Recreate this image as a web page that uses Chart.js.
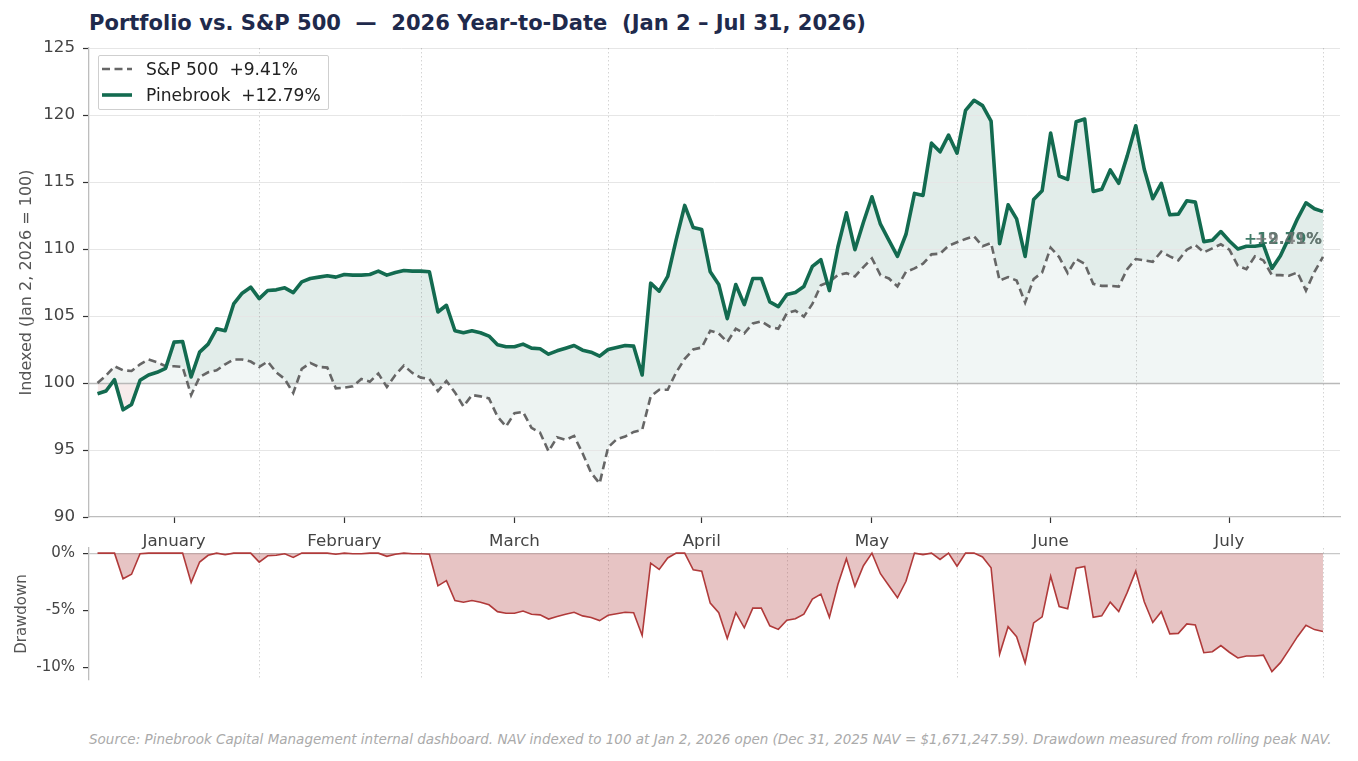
<!DOCTYPE html>
<html><head><meta charset="utf-8">
<script src="https://cdn.jsdelivr.net/npm/chart.js@4.4.1/dist/chart.umd.min.js"></script>
<style>
html,body{margin:0;padding:0;background:#fff;}
body{width:1358px;height:761px;position:relative;overflow:hidden;font-family:'DejaVu Sans',sans-serif;}
#title{position:absolute;left:89px;top:11px;font-weight:bold;font-size:21.05px;color:#1f2a4c;white-space:pre;line-height:24px;}
#c1{position:absolute;left:0;top:0;}
#c2{position:absolute;left:0;top:538px;}
#legend{position:absolute;left:98px;top:55px;width:229px;height:53px;border:1.5px solid #cfcfcf;background:rgba(255,255,255,0.85);border-radius:2px;}
.row{position:absolute;left:0;width:229px;height:26px;white-space:pre;font-size:17.1px;color:#222;line-height:26px;}
.row svg{position:absolute;left:3px;top:0;}
.row span{position:absolute;left:47px;top:0;}
#source{position:absolute;left:89px;top:731px;font-style:italic;font-size:13.5px;color:#aaa;white-space:pre;}
</style></head>
<body>
<div id="title">Portfolio vs. S&amp;P 500  —  2026 Year-to-Date  (Jan 2 – Jul 31, 2026)</div>
<canvas id="c1" width="1358" height="556"></canvas>
<canvas id="c2" width="1358" height="144"></canvas>
<div id="legend">
  <div class="row" style="top:-0.5px"><svg width="34" height="26"><line x1="0" y1="13" x2="30" y2="13" stroke="#666" stroke-width="2.6" stroke-dasharray="8,4.5"/></svg><span id="lg1"></span></div>
  <div class="row" style="top:25.5px"><svg width="34" height="26"><line x1="0" y1="13" x2="30" y2="13" stroke="#136b50" stroke-width="3.6"/></svg><span id="lg2"></span></div>
</div>
<div id="source">Source: Pinebrook Capital Management internal dashboard. NAV indexed to 100 at Jan 2, 2026 open (Dec 31, 2025 NAV = $1,671,247.59). Drawdown measured from rolling peak NAV.</div>
<script>
// ---- data (trading days Jan 2 – Jul 31, 2026) ----
const PORT = [
 99.2, 99.4, 100.25, 98.0, 98.4, 100.2, 100.6, 100.8, 101.1, 103.05,
 103.1, 100.45, 102.3, 102.9, 104.05, 103.9, 105.9, 106.7, 107.15, 106.3,
 106.9, 106.95, 107.1, 106.75, 107.55, 107.8, 107.9, 108.0, 107.9, 108.1,
 108.05, 108.05, 108.1, 108.35, 108.05, 108.25, 108.4, 108.35, 108.35, 108.3,
 105.3, 105.8, 103.9, 103.75, 103.9, 103.75, 103.5, 102.85, 102.7, 102.7,
 102.9, 102.6, 102.55, 102.15, 102.4, 102.6, 102.8, 102.45, 102.3, 102.0,
 102.5, 102.65, 102.8, 102.75, 100.6, 107.45, 106.85, 107.95, 110.7, 113.25,
 111.6, 111.45, 108.3, 107.35, 104.8, 107.35, 105.85, 107.8, 107.8, 106.05,
 105.7, 106.6, 106.75, 107.2, 108.7, 109.2, 106.9, 110.15, 112.7, 109.95,
 112.0, 113.9, 111.85, 110.65, 109.45, 111.1, 114.15, 114.0, 117.9, 117.25,
 118.5, 117.15, 120.35, 121.1, 120.7, 119.55, 110.4, 113.3, 112.25, 109.45,
 113.7, 114.35, 118.65, 115.45, 115.2, 119.5, 119.7, 114.3, 114.45, 115.9,
 114.9, 116.95, 119.2, 115.95, 113.75, 114.9, 112.55, 112.6, 113.6, 113.5,
 110.55, 110.65, 111.3, 110.6, 110.0, 110.2, 110.2, 110.3, 108.55, 109.5,
 110.85, 112.25, 113.45, 113.0, 112.79
];
const SPX = [
 100.0, 100.55, 101.25, 100.95, 100.9, 101.4, 101.75, 101.55, 101.25, 101.25,
 101.2, 99.1, 100.45, 100.8, 100.95, 101.4, 101.75, 101.75, 101.6, 101.2,
 101.6, 100.8, 100.3, 99.25, 101.05, 101.5, 101.2, 101.15, 99.6, 99.65,
 99.75, 100.3, 100.1, 100.7, 99.7, 100.6, 101.3, 100.75, 100.4, 100.3,
 99.4, 100.15, 99.3, 98.25, 99.1, 99.0, 98.85, 97.5, 96.75, 97.75,
 97.85, 96.65, 96.3, 94.9, 95.95, 95.75, 96.05, 94.75, 93.3, 92.5,
 95.2, 95.8, 96.0, 96.35, 96.5, 99.0, 99.5, 99.5, 100.8, 101.8,
 102.5, 102.65, 103.9, 103.7, 103.05, 104.05, 103.7, 104.45, 104.6, 104.2,
 104.05, 105.2, 105.4, 104.95, 105.9, 107.3, 107.55, 108.05, 108.2, 107.95,
 108.65, 109.3, 108.05, 107.8, 107.2, 108.3, 108.55, 108.9, 109.6, 109.65,
 110.25, 110.5, 110.75, 110.95, 110.2, 110.45, 107.65, 107.9, 107.65, 106.0,
 107.75, 108.25, 110.1, 109.4, 108.2, 109.25, 108.9, 107.4, 107.25, 107.25,
 107.2, 108.5, 109.25, 109.15, 109.05, 109.8, 109.45, 109.15, 109.95, 110.3,
 109.75, 110.05, 110.35, 109.95, 108.75, 108.5, 109.45, 109.15, 108.05, 108.05,
 108.0, 108.25, 106.9, 108.3, 109.41
];
const DRAWDOWN = [
 0, 0, 0, -2.24, -1.85, -0.05, 0, 0, 0, 0,
 0, -2.57, -0.78, -0.19, 0, -0.14, 0, 0, 0, -0.79,
 -0.23, -0.19, -0.05, -0.37, 0, 0, 0, 0, -0.09, 0,
 -0.05, -0.05, 0, 0, -0.28, -0.09, 0, -0.05, -0.05, -0.09,
 -2.86, -2.40, -4.15, -4.29, -4.15, -4.29, -4.52, -5.12, -5.26, -5.26,
 -5.07, -5.35, -5.40, -5.77, -5.54, -5.35, -5.17, -5.49, -5.63, -5.90,
 -5.44, -5.30, -5.17, -5.21, -7.20, -0.88, -1.43, -0.42, 0, 0,
 -1.46, -1.59, -4.37, -5.21, -7.46, -5.21, -6.53, -4.81, -4.81, -6.36,
 -6.67, -5.87, -5.74, -5.34, -4.02, -3.58, -5.61, -2.74, -0.49, -2.91,
 -1.10, 0, -1.80, -2.85, -3.91, -2.46, 0, -0.13, 0, -0.55,
 0, -1.14, 0, 0, -0.33, -1.28, -8.84, -6.44, -7.31, -9.62,
 -6.11, -5.57, -2.02, -4.67, -4.87, -1.32, -1.16, -5.62, -5.49, -4.29,
 -5.12, -3.43, -1.57, -4.25, -6.07, -5.12, -7.06, -7.02, -6.19, -6.28,
 -8.71, -8.63, -8.09, -8.67, -9.17, -9.00, -9.00, -8.92, -10.36, -9.58,
 -8.46, -7.31, -6.32, -6.69, -6.86
];
const MONTHS = ['January','February','March','April','May','June','July'];
const MONTH_TICK_IDX = [9, 29, 49, 71, 91, 112, 133];   // mid-month trading day
const MONTH_END_IDX  = [19, 38, 60, 81, 101, 122, 144]; // last trading day of month
const Y_TICKS = [90, 95, 100, 105, 110, 115, 120, 125];
const DD_TICKS = [-10, -5, 0];
const SPX_LABEL = '+9.41%';
const PORT_LABEL = '+12.79%';
const END_LABEL_AT = 110.65;

const DAY = PORT.map((_, i) => i);
document.getElementById('lg1').textContent = 'S&P 500  ' + SPX_LABEL;
document.getElementById('lg2').textContent = 'Pinebrook  ' + PORT_LABEL;

const GREEN = '#136b50';
const RED = 'rgb(176,58,58)';
Chart.defaults.font.family = "'DejaVu Sans', sans-serif";
Chart.defaults.font.size = 16.7;
Chart.defaults.color = '#444';

const gridPlugin = {
  id: 'gridPlugin',
  beforeDatasetsDraw(chart, args, opts) {
    const {ctx, chartArea: a, scales: {x, y}} = chart;
    ctx.save();
    if (opts.horizontal) {
      Y_TICKS.forEach(v => {
        const py = Math.round(y.getPixelForValue(v)) + 0.5;
        if (v === 90) return;
        ctx.beginPath();
        ctx.strokeStyle = v === 100 ? '#b9b9b9' : '#e6e6e6';
        ctx.lineWidth = v === 100 ? 1.4 : 1;
        ctx.moveTo(a.left, py); ctx.lineTo(a.right, py); ctx.stroke();
      });
    }
    ctx.strokeStyle = 'rgba(0,0,0,0.17)';
    ctx.lineWidth = 1;
    ctx.setLineDash([1.5, 2.5]);
    MONTH_END_IDX.forEach(v => {
      const px = Math.round(x.getPixelForValue(v)) + 0.5;
      ctx.beginPath(); ctx.moveTo(px, a.top); ctx.lineTo(px, a.bottom); ctx.stroke();
    });
    ctx.restore();
  }
};

const endLabels = {
  id: 'endLabels',
  afterDatasetsDraw(chart) {
    const {ctx, scales: {x, y}} = chart;
    const px = x.getPixelForValue(DAY[DAY.length - 1]) - 1;
    const py = y.getPixelForValue(END_LABEL_AT);
    ctx.save();
    ctx.font = "bold 15.6px 'DejaVu Sans'";
    ctx.textAlign = 'right';
    ctx.textBaseline = 'middle';
    ctx.fillStyle = 'rgba(30,100,78,0.85)';
    ctx.fillText(PORT_LABEL, px, py);
    ctx.fillStyle = 'rgba(115,115,115,0.8)';
    ctx.fillText(SPX_LABEL, px, py);
    ctx.restore();
  }
};

new Chart(document.getElementById('c1'), {
  type: 'line',
  data: {
    labels: DAY,
    datasets: [
      {label: 'S&P 500', data: SPX, borderColor: '#666', borderWidth: 2.6, borderDash: [8, 4.5],
       pointRadius: 0, fill: false, order: 1, tension: 0},
      {label: 'Pinebrook', data: PORT, borderColor: GREEN, borderWidth: 3.6, pointRadius: 0, order: 0,
       tension: 0, borderJoinStyle: 'round',
       fill: {target: 0, above: 'rgba(19,107,80,0.12)', below: 'rgba(178,60,60,0.10)'}},
      {label: 'base', data: SPX, borderWidth: 0, borderColor: 'rgba(0,0,0,0)', pointRadius: 0, order: -1,
       fill: {value: 100}, backgroundColor: 'rgba(239,245,243,0.86)'}
    ]
  },
  options: {
    responsive: false, animation: false, devicePixelRatio: 1,
    layout: {padding: {left: 0, right: 18, top: 48, bottom: 0}},
    plugins: {legend: {display: false}, tooltip: {enabled: false},
              filler: {drawTime: 'beforeDatasetsDraw'}, gridPlugin: {horizontal: true}},
    scales: {
      x: {type: 'linear', min: -1, max: 146,
          afterBuildTicks: s => { s.ticks = MONTH_TICK_IDX.map(v => ({value: v})); },
          afterFit: s => { s.height = 556 - 517; },
          ticks: {autoSkip: false, maxRotation: 0, padding: 9, color: '#444',
                  callback: v => MONTHS[MONTH_TICK_IDX.indexOf(v)]},
          grid: {drawOnChartArea: false, drawTicks: true, tickLength: 6, tickColor: '#333', tickWidth: 1.2},
          border: {color: '#bdbdbd', width: 1.3}},
      y: {min: 90, max: 125,
          afterBuildTicks: s => { s.ticks = Y_TICKS.map(v => ({value: v})); },
          afterFit: s => { s.width = 89; },
          ticks: {padding: 8, color: '#444'},
          grid: {drawOnChartArea: false, drawTicks: true, tickLength: 6, tickColor: '#333', tickWidth: 1.2},
          border: {color: '#bdbdbd', width: 1.3},
          title: {display: true, text: 'Indexed (Jan 2, 2026 = 100)', color: '#555',
                  font: {size: 16}, padding: {top: 17, bottom: 0}}}
    }
  },
  plugins: [gridPlugin, endLabels]
});

new Chart(document.getElementById('c2'), {
  type: 'line',
  data: {
    labels: DAY,
    datasets: [{label: 'Drawdown', data: DRAWDOWN, borderColor: RED, borderWidth: 1.6, pointRadius: 0,
                tension: 0, fill: {value: 0}, backgroundColor: 'rgba(176,58,58,0.30)'}]
  },
  options: {
    responsive: false, animation: false, devicePixelRatio: 1,
    layout: {padding: {left: 0, right: 18, top: 10, bottom: 2}},
    plugins: {legend: {display: false}, tooltip: {enabled: false}, gridPlugin: {horizontal: false}},
    scales: {
      x: {type: 'linear', min: -1, max: 146, display: false},
      y: {min: -11.1, max: 0.45,
          afterBuildTicks: s => { s.ticks = DD_TICKS.map(v => ({value: v})); },
          afterFit: s => { s.width = 89; s.paddingTop = 0; s.paddingBottom = 0; },
          ticks: {padding: 8, color: '#444', font: {size: 15}, callback: v => v + '%'},
          grid: {color: c => (c.tick && c.tick.value === 0) ? '#c8c8c8' : 'rgba(0,0,0,0)',
                 lineWidth: 1.2, drawTicks: true, tickLength: 6, tickColor: '#333', tickWidth: 1.2},
          border: {color: '#bdbdbd', width: 1.3},
          title: {display: true, text: 'Drawdown', color: '#555', font: {size: 15}, padding: {top: 13, bottom: 0}}}
    }
  },
  plugins: [gridPlugin]
});
</script>
</body></html>
